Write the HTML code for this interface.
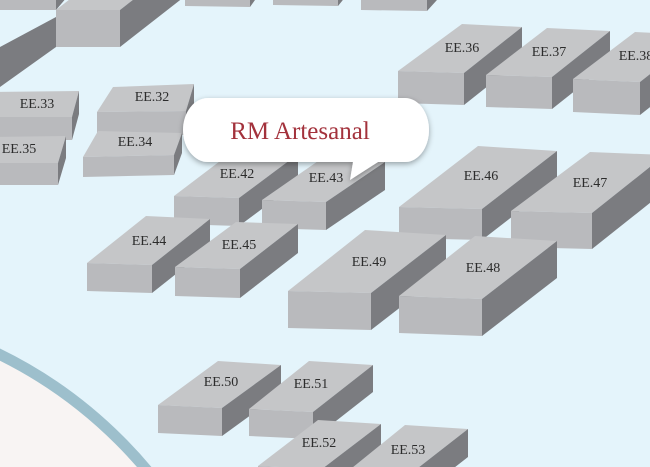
<!DOCTYPE html>
<html><head><meta charset="utf-8"><style>
html,body{margin:0;padding:0;background:#e4f4fb;width:650px;height:467px;overflow:hidden;}
svg{display:block;overflow:hidden}
text.l{font-family:"Liberation Serif",serif;font-size:14px;fill:#2c2c2c;text-anchor:middle}
</style></head><body>
<svg id="s" width="650" height="467" viewBox="0 0 650 467" xmlns="http://www.w3.org/2000/svg">
<defs><filter id="sh" x="-20%" y="-30%" width="140%" height="170%"><feDropShadow dx="0" dy="2" stdDeviation="3" flood-color="#000" flood-opacity="0.35"/></filter>
<clipPath id="cp"><rect width="650" height="467"/></clipPath></defs>
<rect width="650" height="467" fill="#e4f4fb"/>
<g clip-path="url(#cp)">
<circle cx="-200" cy="760" r="452" fill="#f8f4f3" stroke="#9dbfcc" stroke-width="11"/>
<g id="b"></g>
</g>
<g filter="url(#sh)">
<path d="M208,98 H405 A24,32 0 0 1 429,130 A24,32 0 0 1 405,162 H378 L350,180 L353,162 H208 A25,32 0 0 1 183,130 A25,32 0 0 1 208,98 Z" fill="#fff"/>
</g>
<text x="300" y="139" font-family="Liberation Serif,serif" font-size="25" fill="#a3323c" text-anchor="middle">RM Artesanal</text>
</svg>
<script>
var g=document.getElementById('b'),NS='http://www.w3.org/2000/svg';
function P(pts,c){var p=document.createElementNS(NS,'polygon');p.setAttribute('points',pts.map(function(q){return q.join(',')}).join(' '));p.setAttribute('fill',c);g.appendChild(p);}
function B(ax,ay,w,s,bx,by,bw,bs,h,label,lx,ly){
var A=[ax,ay],R=[ax+w,ay+s],BL=[bx,by],BR=[bx+bw,by+bs];
P([A,R,BR,BL],'#c5c6c8');
P([A,R,[R[0],R[1]+h],[ax,ay+h]],'#b9babd');
P([R,BR,[BR[0],BR[1]+h],[R[0],R[1]+h]],'#7b7c80');
if(label){var t=document.createElementNS(NS,'text');t.setAttribute('class','l');t.setAttribute('x',lx);t.setAttribute('y',ly);t.textContent=label;g.appendChild(t);}
}
B(-100,-40,156,0,-60,-80,150,0,50,'');
B(-60,-5,116,0,0,-40,100,0,0,'');
P([[0,47],[56,17],[56,47],[0,87]],'#7b7c80');
B(56,10,64,0,120,-40,64,0,37,'');
B(185,-20,65,1,200,-40,65,0,26,'');
B(273,-20,65,1,290,-40,65,0,25,'');
B(361,-20,66,1,380,-40,66,0,30,'');
B(-20,117,92,0,-10,92,89,-1,23,'EE.33',37,108);
B(97,112,89,-1,113,87,81,-3,24,'EE.32',152,101);
B(-20,163,78,0,-10,137,76,-1,22,'EE.35',19,153);
B(83,157,91,-2,98,131,84,2,20,'EE.34',135,146);
B(398,71,66,2,462,24,60,3,32,'EE.36',462,52);
B(486,75,66,2,547,28,63,3,32,'EE.37',549,56);
B(573,79,67,3,635,32,65,3,33,'EE.38',636,60);
B(174,196,65,2,232,152,66,2,28,'EE.42',237,178);
B(262,200,64,2,321,159,64,3,28,'EE.43',326,182);
B(399,207,83,2,478,146,79,5,31,'EE.46',481,180);
B(511,211,81,2,590,152,75,3,36,'EE.47',590,187);
B(87,263,65,2,146,216,64,3,28,'EE.44',149,245);
B(175,267,65,2,236,222,62,2,29,'EE.45',239,249);
B(288,291,83,2,365,230,81,5,37,'EE.49',369,266);
B(399,296,83,3,475,236,82,5,37,'EE.48',483,272);
B(158,405,64,3,218,361,63,4,28,'EE.50',221,386);
B(249,409,64,3,309,361,64,4,27,'EE.51',311,388);
B(258,466,64,3,318,420,63,4,28,'EE.52',319,447);
B(347,472,62,3,405,425,63,4,28,'EE.53',408,454);
</script>
</body></html>
